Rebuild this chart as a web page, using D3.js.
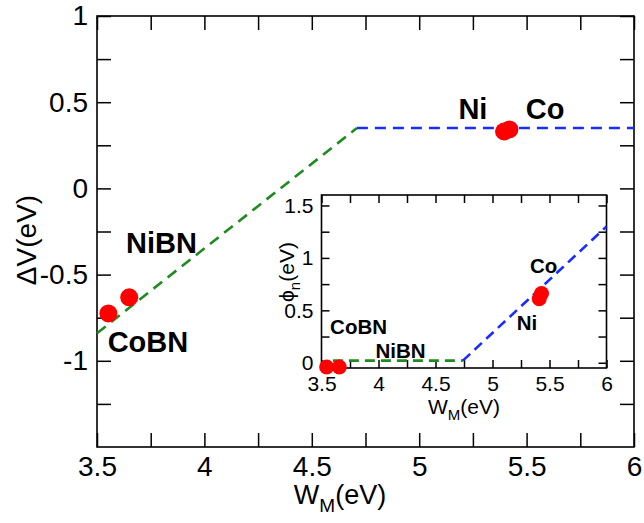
<!DOCTYPE html>
<html><head><meta charset="utf-8">
<script src="https://cdn.jsdelivr.net/npm/d3@7"></script>
<style>
html,body{margin:0;padding:0;background:#fff;}
text{font-family:"Liberation Sans",Arial,Helvetica,sans-serif;}
</style></head>
<body><svg id="c" width="644" height="523"></svg>
<script>
// ---- Data ----
// Main panel: ΔV vs W_M
const mainGreenLine = [[3.5, -0.84], [4.71, 0.35]];
const mainBlueLine = [[4.71, 0.35], [6.0, 0.35]];
const mainPoints = [[3.553, -0.725], [3.650, -0.632], [5.395, 0.330], [5.42, 0.342]];
const mainLabels = [
  {text: "NiBN", x: 3.80, y: -0.375},
  {text: "CoBN", x: 3.737, y: -0.95},
  {text: "Ni", x: 5.25, y: 0.40},
  {text: "Co", x: 5.586, y: 0.40}
];
const mainXTicks = [3.5, 4, 4.5, 5, 5.5, 6];
const mainYTicks = [1, 0.5, 0, -0.5, -1];
const mainXTickLabels = ["3.5", "4", "4.5", "5", "5.5", "6"];
const mainYTickLabels = ["1", "0.5", "0", "-0.5", "-1"];
const mainXMinor = [3.75, 4.25, 4.75, 5.25, 5.75];
const mainYMinor = [0.75, 0.25, -0.25, -0.75, -1.25];

// Inset: φn vs W_M
const insetGreenLine = [[3.6, 0.02], [4.74, 0.02]];
const insetBlueLine = [[4.74, 0.02], [6.0, 1.3]];
const insetPoints = [[3.545, -0.04], [3.656, -0.04], [5.41, 0.61], [5.43, 0.66]];
const insetLabels = [
  {text: "CoBN", x: 3.825, y: 0.274},
  {text: "NiBN", x: 4.193, y: 0.045},
  {text: "Co", x: 5.449, y: 0.856},
  {text: "Ni", x: 5.303, y: 0.31}
];
const insetXTicks = [3.5, 4, 4.5, 5, 5.5, 6];
const insetXTickLabels = ["3.5", "4", "4.5", "5", "5.5", "6"];
const insetYTicks = [0, 0.5, 1, 1.5];
const insetYTickLabels = ["0", "0.5", "1", "1.5"];
const insetXMinor = [3.75, 4.25, 4.75, 5.25, 5.75];
const insetYMinor = [0.25, 0.75, 1.25];

// ---- Drawing ----
const svg = d3.select("#c");
const RED = "#ff0000", GREEN = "#1f8a1f", BLUE = "#1a2cff";

function panel(cfg) {
  const g = svg.append("g");
  const x = d3.scaleLinear().domain(cfg.xd).range([cfg.l, cfg.r]);
  const y = d3.scaleLinear().domain(cfg.yd).range([cfg.b, cfg.t]);
  const tl = cfg.tick;
  g.append("rect").attr("x", cfg.l).attr("y", cfg.t).attr("width", cfg.r - cfg.l).attr("height", cfg.b - cfg.t)
    .attr("fill", "#fff").attr("stroke", "none");
  const mk = (axisFn, scale, vals, fmt, tr, size, pad, showLabels) => {
    const a = axisFn(scale).tickValues(vals).tickSize(size).tickPadding(pad)
      .tickFormat(showLabels ? ((d, i) => fmt[i]) : () => "");
    const ag = g.append("g").attr("transform", tr).call(a);
    ag.select(".domain").remove();
    ag.selectAll("line").attr("stroke", "#000").attr("stroke-width", 1.5);
    ag.selectAll("text").attr("font-size", cfg.fs).attr("fill", "#000");
    return ag;
  };
  const bx = mk(d3.axisBottom, x, cfg.xt, cfg.xtl, `translate(0,${cfg.b})`, -tl, cfg.xpad, true);
  bx.selectAll("text").attr("dy", cfg.xdy);
  mk(d3.axisBottom, x, cfg.xm, [], `translate(0,${cfg.b})`, -tl, 0, false);
  mk(d3.axisTop, x, cfg.xt.concat(cfg.xm), [], `translate(0,${cfg.t})`, -tl, 0, false);
  mk(d3.axisLeft, y, cfg.yt, cfg.ytl, `translate(${cfg.l},0)`, -tl, cfg.ypad, true);
  mk(d3.axisLeft, y, cfg.ym, [], `translate(${cfg.l},0)`, -tl, 0, false);
  mk(d3.axisRight, y, cfg.yt.concat(cfg.ym), [], `translate(${cfg.r},0)`, -tl, 0, false);
  g.append("rect").attr("x", cfg.l).attr("y", cfg.t).attr("width", cfg.r - cfg.l).attr("height", cfg.b - cfg.t)
    .attr("fill", "none").attr("stroke", "#000").attr("stroke-width", 1.6);
  const line = d3.line().x(d => x(d[0])).y(d => y(d[1]));
  g.append("path").datum(cfg.green).attr("d", line).attr("fill", "none").attr("stroke", GREEN)
    .attr("stroke-width", cfg.lw).attr("stroke-dasharray", cfg.dash);
  g.append("path").datum(cfg.blue).attr("d", line).attr("fill", "none").attr("stroke", BLUE)
    .attr("stroke-width", cfg.lw).attr("stroke-dasharray", cfg.dash);
  g.selectAll("circle.pt").data(cfg.pts).enter().append("circle").attr("class", "pt")
    .attr("cx", d => x(d[0])).attr("cy", d => y(d[1])).attr("r", cfg.rad).attr("fill", RED);
  g.selectAll("text.lab").data(cfg.labels).enter().append("text").attr("class", "lab")
    .attr("x", d => x(d.x)).attr("y", d => y(d.y)).attr("text-anchor", "middle")
    .attr("font-size", cfg.lfs).attr("font-weight", "bold").text(d => d.text);
  return {x, y, g};
}

panel({
  xd: [3.5, 6], yd: [-1.5, 1], l: 97, r: 634, t: 16, b: 447, tick: 14, xpad: 9, ypad: 9,
  xt: mainXTicks, xtl: mainXTickLabels, yt: mainYTicks, ytl: mainYTickLabels,
  xm: mainXMinor, ym: mainYMinor, fs: 28, xdy: "0.72em",
  green: mainGreenLine, blue: mainBlueLine, pts: mainPoints, rad: 9, lw: 2.6, dash: "11,7",
  labels: mainLabels, lfs: 29
});
svg.append("text").attr("x", 340).attr("y", 504).attr("text-anchor", "middle").attr("font-size", 27)
  .html('W<tspan font-size="19" dy="8">M</tspan><tspan dy="-8">(eV)</tspan>');
svg.append("text").attr("transform", "translate(36,240) rotate(-90)").attr("text-anchor", "middle")
  .attr("font-size", 28).text("ΔV(eV)");

panel({
  xd: [3.5, 6], yd: [-0.05, 1.6], l: 321.5, r: 606.5, t: 195, b: 368, tick: 8, xpad: 6, ypad: 8,
  xt: insetXTicks, xtl: insetXTickLabels, yt: insetYTicks, ytl: insetYTickLabels,
  xm: insetXMinor, ym: insetYMinor, fs: 21, xdy: "0.8em",
  green: insetGreenLine, blue: insetBlueLine, pts: insetPoints, rad: 7.5, lw: 2.6, dash: "10,6",
  labels: insetLabels, lfs: 20.5
});
svg.append("text").attr("x", 464).attr("y", 414).attr("text-anchor", "middle").attr("font-size", 21)
  .html('W<tspan font-size="15" dy="6">M</tspan><tspan dy="-6">(eV)</tspan>');
svg.append("text").attr("transform", "translate(294,272) rotate(-90)").attr("text-anchor", "middle")
  .attr("font-size", 21).html('ϕ<tspan font-size="15" dy="6">n</tspan><tspan dy="-6">(eV)</tspan>');
</script>
</body></html>
